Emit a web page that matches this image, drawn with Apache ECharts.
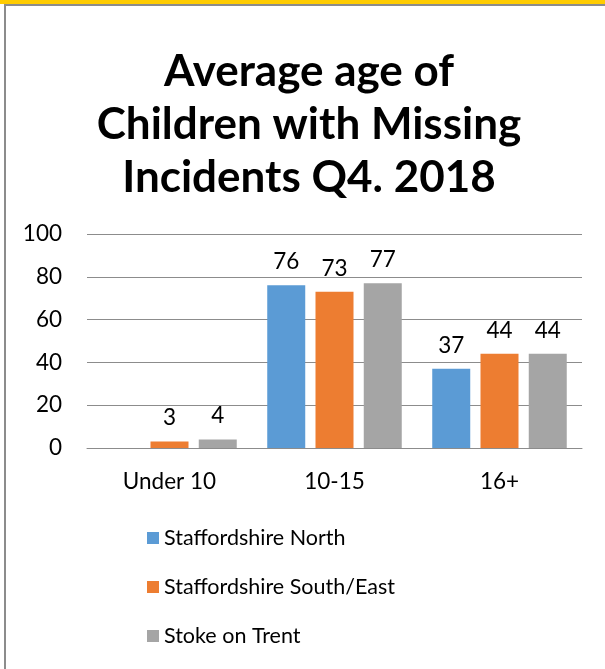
<!DOCTYPE html>
<html><head><meta charset="utf-8">
<style>html,body{margin:0;padding:0;background:#fff}#c{width:605px;height:669px}</style>
<script src="https://cdn.jsdelivr.net/npm/echarts@6/dist/echarts.min.js"></script>
</head><body><div id="c"></div>
<script>
const categories = ['Under 10', '10-15', '16+'];
const seriesNames = ['Staffordshire North', 'Staffordshire South/East', 'Stoke on Trent'];
const staffsNorth = [null, 76, 37];
const staffsSouthEast = [3, 73, 44];
const stokeOnTrent = [4, 77, 44];
const colors = ['#5B9BD5', '#ED7D31', '#A5A5A5'];
const yTicks = {min: 0, max: 100, interval: 20};

const chart = echarts.init(document.getElementById('c'));
const font = 'Lato, Carlito, Calibri, sans-serif';
const mk = (name, data, color) => ({
  name, type: 'bar', data, barWidth: 38, barGap: '27%',
  itemStyle: {color},
  label: {show: true, position: 'top', distance: 12, color: '#000', fontSize: 22.5, fontFamily: font}
});
chart.setOption({
  animation: false,
  graphic: [
    {type: 'rect', shape: {x: 0, y: 0, width: 605, height: 4}, style: {fill: '#FFCC00'}},
    {type: 'rect', shape: {x: 4, y: 4, width: 601, height: 2}, style: {fill: '#8C8C8C'}},
    {type: 'rect', shape: {x: 4, y: 4, width: 2, height: 665}, style: {fill: '#8C8C8C'}}
  ],
  title: {
    text: 'Average age of\nChildren with Missing\nIncidents Q4. 2018',
    left: 304, top: 40, textAlign: 'center',
    textStyle: {fontFamily: font, fontWeight: 'bold', fontSize: 44, lineHeight: 53, color: '#000'}
  },
  legend: {
    orient: 'vertical', left: 142, top: 521, itemWidth: 12, itemHeight: 12, itemGap: 25,
    icon: 'rect',
    textStyle: {fontFamily: font, fontSize: 21.5, lineHeight: 24, color: '#000'},
    data: seriesNames
  },
  grid: {left: 87, right: 23, top: 234, bottom: 221, containLabel: false},
  xAxis: {
    type: 'category', data: categories,
    axisLine: {lineStyle: {color: '#8C8C8C', width: 1}},
    axisTick: {show: false},
    axisLabel: {fontFamily: font, fontSize: 22.5, color: '#000', margin: 22}
  },
  yAxis: {
    type: 'value', min: yTicks.min, max: yTicks.max, interval: yTicks.interval,
    axisLine: {show: false}, axisTick: {show: false},
    splitLine: {lineStyle: {color: '#8C8C8C', width: 1}},
    axisLabel: {fontFamily: font, fontSize: 22.5, color: '#000', margin: 25}
  },
  series: [
    mk(seriesNames[0], staffsNorth, colors[0]),
    mk(seriesNames[1], staffsSouthEast, colors[1]),
    mk(seriesNames[2], stokeOnTrent, colors[2])
  ]
});
</script></body></html>
